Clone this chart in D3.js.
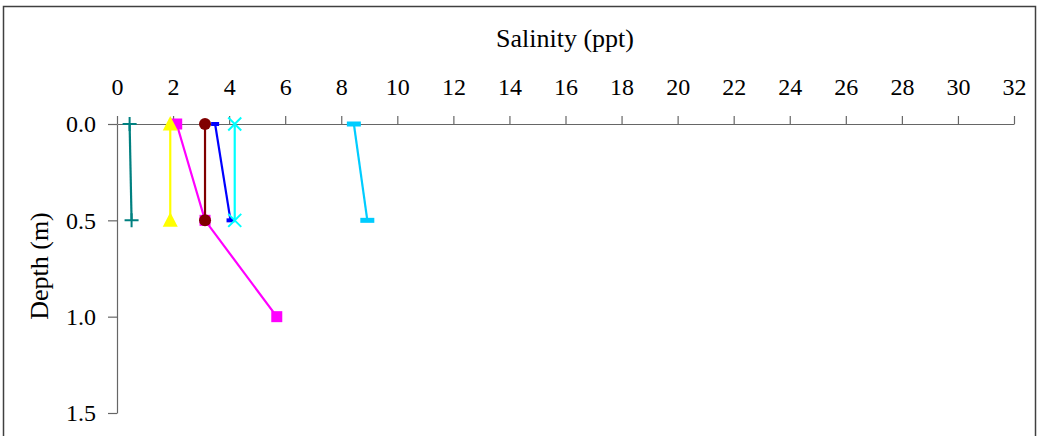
<!DOCTYPE html>
<html>
<head>
<meta charset="utf-8">
<style>
body { margin: 0; background: #fff; }
svg text { font-family: "Liberation Serif", "Times New Roman", serif; fill: #000; }
</style>
</head>
<body>
<div id="chart"></div>
<script src="https://d3js.org/d3.v7.min.js"></script>
<script>
// salinity (ppt) and depth (m) per station
var xTicks = [0, 2, 4, 6, 8, 10, 12, 14, 16, 18, 20, 22, 24, 26, 28, 30, 32];
var yTicks = [0.0, 0.5, 1.0, 1.5];

var tealSal = [0.45, 0.52];      var tealDepth = [0.0, 0.5];
var magentaSal = [2.13, 3.14, 5.7]; var magentaDepth = [0.0, 0.5, 1.0];
var yellowSal = [1.9, 1.9];      var yellowDepth = [0.0, 0.5];
var maroonSal = [3.14, 3.14];    var maroonDepth = [0.0, 0.5];
var blueSal = [3.5, 4.05];       var blueDepth = [0.0, 0.5];
var cyanSal = [4.2, 4.2];        var cyanDepth = [0.0, 0.5];
var skySal = [8.45, 8.93];       var skyDepth = [0.0, 0.5];

var series = [
  { sal: tealSal, depth: tealDepth, color: "#008080", marker: "plus" },
  { sal: magentaSal, depth: magentaDepth, color: "#ff00ff", marker: "square" },
  { sal: yellowSal, depth: yellowDepth, color: "#ffff00", marker: "triangle" },
  { sal: maroonSal, depth: maroonDepth, color: "#800000", marker: "circle" },
  { sal: blueSal, depth: blueDepth, color: "#0000ff", marker: "dashSmall" },
  { sal: cyanSal, depth: cyanDepth, color: "#00ffff", marker: "cross" },
  { sal: skySal, depth: skyDepth, color: "#00ccff", marker: "dash" }
];

var W = 1038, H = 436;
var svg = d3.select("#chart").append("svg")
  .attr("width", W).attr("height", H);

// outer frame
svg.append("rect")
  .attr("x", 3.5).attr("y", 6.5)
  .attr("width", 1032).attr("height", 450)
  .attr("fill", "none").attr("stroke", "#404040").attr("stroke-width", 1.5);

var x = d3.scaleLinear().domain([0, 32]).range([117, 1014]);
var y = d3.scaleLinear().domain([0, 1.5]).range([124, 413]);

// x axis on top
var gx = svg.append("g")
  .attr("transform", "translate(0," + y(0) + ")")
  .call(d3.axisTop(x).tickValues(xTicks).tickFormat(d3.format("d"))
    .tickSize(8).tickSizeOuter(0).tickPadding(21));

// y axis
var gy = svg.append("g")
  .attr("transform", "translate(" + x(0) + ",0)")
  .call(d3.axisLeft(y).tickValues(yTicks).tickFormat(d3.format(".1f"))
    .tickSize(9).tickSizeOuter(0).tickPadding(12));

[gx, gy].forEach(function(g) {
  g.select(".domain").attr("stroke", "#666").attr("stroke-width", 1.2);
  g.selectAll(".tick line").attr("stroke", "#666").attr("stroke-width", 1.2);
  g.selectAll(".tick text")
    .style("font-family", "'Liberation Serif', 'Times New Roman', serif")
    .style("font-size", "24px").attr("fill", "#000");
});

svg.append("text")
  .attr("x", 565).attr("y", 47)
  .attr("text-anchor", "middle")
  .style("font-size", "26px")
  .text("Salinity (ppt)");

svg.append("text")
  .attr("transform", "translate(48," + 266 + ") rotate(-90)")
  .attr("text-anchor", "middle")
  .style("font-size", "26px")
  .text("Depth (m)");

var line = d3.line()
  .x(function(d) { return x(d.s); })
  .y(function(d) { return y(d.d); });

function drawMarker(g, m, c) {
  if (m === "plus") {
    g.append("path").attr("d", "M-7,0H7M0,-7V7")
      .attr("stroke", c).attr("stroke-width", 2).attr("fill", "none");
  } else if (m === "square") {
    g.append("rect").attr("x", -5.5).attr("y", -5.5).attr("width", 11).attr("height", 11)
      .attr("fill", c);
  } else if (m === "triangle") {
    g.append("path").attr("d", "M0,-8L7.5,6.5L-7.5,6.5Z").attr("fill", c);
  } else if (m === "circle") {
    g.append("circle").attr("r", 6).attr("fill", c);
  } else if (m === "dashSmall") {
    g.append("rect").attr("x", -4).attr("y", -2).attr("width", 8).attr("height", 4).attr("fill", c);
  } else if (m === "dash") {
    g.append("rect").attr("x", -7).attr("y", -2.5).attr("width", 14).attr("height", 5).attr("fill", c);
  } else if (m === "cross") {
    g.append("path").attr("d", "M-6.5,-6.5L6.5,6.5M6.5,-6.5L-6.5,6.5")
      .attr("stroke", c).attr("stroke-width", 2).attr("fill", "none");
  }
}

series.forEach(function(s) {
  var pts = s.sal.map(function(v, i) { return { s: v, d: s.depth[i] }; });
  svg.append("path").datum(pts)
    .attr("fill", "none").attr("stroke", s.color).attr("stroke-width", 2.2)
    .attr("d", line);
  pts.forEach(function(p) {
    var g = svg.append("g").attr("transform", "translate(" + x(p.s) + "," + y(p.d) + ")");
    drawMarker(g, s.marker, s.color);
  });
});
</script>
</body>
</html>
